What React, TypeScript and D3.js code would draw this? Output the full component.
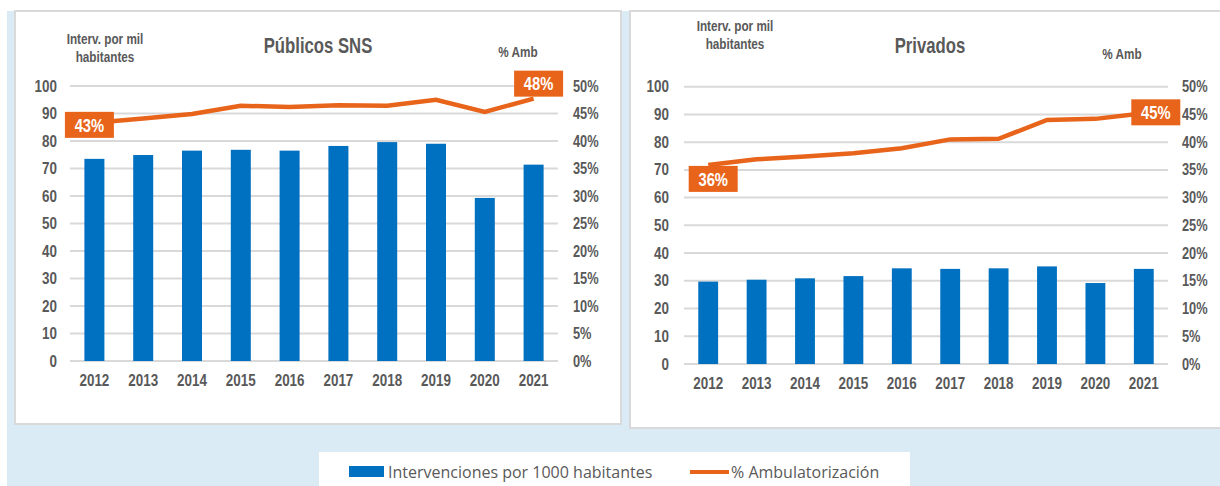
import React from 'react';
import * as d3 from 'd3';

const years = ['2012', '2013', '2014', '2015', '2016', '2017', '2018', '2019', '2020', '2021'];
const publicosInterv = [73.5, 74.9, 76.5, 76.8, 76.5, 78.2, 79.6, 79.0, 59.3, 71.4];
const publicosAmb = [43.3, 44.1, 44.9, 46.4, 46.2, 46.5, 46.4, 47.5, 45.3, 47.7];
const privadosInterv = [29.7, 30.4, 30.9, 31.7, 34.5, 34.3, 34.5, 35.2, 29.2, 34.3];
const privadosAmb = [35.9, 36.9, 37.4, 38.0, 38.9, 40.5, 40.6, 44.0, 44.2, 45.2];
const leftTicks = [0, 10, 20, 30, 40, 50, 60, 70, 80, 90, 100];
const rightTicks = [0, 5, 10, 15, 20, 25, 30, 35, 40, 45, 50];
const titles = ['Públicos SNS', 'Privados'];
const leftAxisTitle = ['Interv. por mil', 'habitantes'];
const rightAxisTitle = '% Amb';
const legendLabels = ['Intervenciones por 1000 habitantes', '% Ambulatorización'];

const BLUE = '#0070C0';
const ORANGE = '#E8641B';
const TEXT = '#595959';
const GRID = '#D9D9D9';
const BG = '#DAEBF5';
const FONT = "'Liberation Sans', Arial, sans-serif";

type Panel = {
  title: string;
  interv: number[];
  amb: number[];
  box: [number, number, number, number];
  x0: number; x1: number; y0: number; y1: number;
  titleX: number; titleY: number;
  ltX: number; ltY: number;
  ampX: number; ampY: number;
  leftLabelX: number; rightLabelX: number; xLabelY: number;
  firstOff: [number, number]; lastOff: [number, number];
};

const panels: Panel[] = [
  {
    title: titles[0], interv: publicosInterv, amb: publicosAmb,
    box: [15, 11, 606, 413],
    x0: 70, x1: 558, y0: 361, y1: 86,
    titleX: 318, titleY: 45, ltX: 105, ltY: 39, ampX: 518, ampY: 52,
    leftLabelX: 57, rightLabelX: 573, xLabelY: 380,
    firstOff: [-5, 2], lastOff: [5, -15],
  },
  {
    title: titles[1], interv: privadosInterv, amb: privadosAmb,
    box: [630, 11, 600, 417],
    x0: 684, x1: 1168, y0: 364, y1: 86.7,
    titleX: 930, titleY: 45, ltX: 735, ltY: 26, ampX: 1122, ampY: 54,
    leftLabelX: 669, rightLabelX: 1182, xLabelY: 383,
    firstOff: [5, 14], lastOff: [12, -1],
  },
];

type NProps = {
  x: number; y: number; size: number; sx?: number; bold?: boolean;
  anchor?: 'start' | 'middle' | 'end'; fill?: string; children: React.ReactNode;
};

function NText({ x, y, size, sx = 0.84, bold = true, anchor = 'middle', fill = TEXT, children }: NProps) {
  return (
    <text
      transform={`translate(${x},${y}) scale(${sx},1)`}
      dy="0.35em"
      textAnchor={anchor}
      fontSize={size}
      fontWeight={bold ? 'bold' : 'normal'}
      fill={fill}
    >
      {children}
    </text>
  );
}

function ChartPanel({ p }: { p: Panel }) {
  const x = d3.scaleBand<string>().domain(years).range([p.x0, p.x1]).paddingInner(0.59).paddingOuter(0.295);
  const y = d3.scaleLinear().domain([0, 100]).range([p.y0, p.y1]);
  const y2 = d3.scaleLinear().domain([0, 50]).range([p.y0, p.y1]);
  const cx = (d: string) => (x(d) as number) + x.bandwidth() / 2;
  const line = d3.line<number>().x((_, i) => cx(years[i])).y((v) => y2(v));
  const labelIdx = [0, years.length - 1];
  const offs = [p.firstOff, p.lastOff];
  return (
    <g>
      <rect x={p.box[0]} y={p.box[1]} width={p.box[2]} height={p.box[3]} fill="#fff" stroke={GRID} strokeWidth={2} />
      {leftTicks.map((t) => (
        <line key={t} x1={p.x0} x2={p.x1} y1={y(t)} y2={y(t)} stroke={GRID} strokeWidth={2} />
      ))}
      {leftTicks.map((t) => (
        <NText key={'l' + t} x={p.leftLabelX} y={y(t)} size={16} anchor="end">{t}</NText>
      ))}
      {rightTicks.map((t) => (
        <NText key={'r' + t} x={p.rightLabelX} y={y2(t)} size={16} anchor="start" sx={0.8}>{t + '%'}</NText>
      ))}
      {years.map((yr) => (
        <NText key={'x' + yr} x={cx(yr)} y={p.xLabelY} size={16}>{yr}</NText>
      ))}
      {years.map((yr, i) => (
        <rect key={'b' + yr} x={x(yr)} y={y(p.interv[i])} width={x.bandwidth()} height={y(0) - y(p.interv[i])} fill={BLUE} />
      ))}
      <path d={line(p.amb) || ''} fill="none" stroke={ORANGE} strokeWidth={4.5} strokeLinejoin="miter" />
      {labelIdx.map((i, k) => {
        const px = cx(years[i]) + offs[k][0];
        const py = y2(p.amb[i]) + offs[k][1];
        return (
          <g key={'lab' + i}>
            <rect x={px - 24.5} y={py - 13} width={49} height={26} fill={ORANGE} />
            <NText x={px} y={py + 0.5} size={18} fill="#fff" sx={0.82}>{Math.round(p.amb[i]) + '%'}</NText>
          </g>
        );
      })}
      <NText x={p.titleX} y={p.titleY} size={22} sx={0.76}>{p.title}</NText>
      <NText x={p.ltX} y={p.ltY} size={14}>{leftAxisTitle[0]}</NText>
      <NText x={p.ltX} y={p.ltY + 18} size={14}>{leftAxisTitle[1]}</NText>
      <NText x={p.ampX} y={p.ampY} size={14}>{rightAxisTitle}</NText>
    </g>
  );
}

export default function App() {
  return (
    <svg width={1220} height={486} style={{ position: 'absolute', left: 0, top: 0, fontFamily: FONT }}>
      <rect x={0} y={0} width={1220} height={486} fill="#fff" />
      <rect x={7} y={11} width={1213} height={475} fill={BG} />
      {panels.map((p) => <ChartPanel key={p.title} p={p} />)}
      <rect x={319} y={452} width={591} height={40} fill="#fff" />
      <rect x={349} y={466} width={35} height={11} fill={BLUE} />
      <text x={388} y={472} dy="0.35em" fontSize={16} fill={TEXT} style={{ fontFamily: "'Open Sans', sans-serif" }}>{legendLabels[0]}</text>
      <line x1={690} x2={729} y1={472} y2={472} stroke={ORANGE} strokeWidth={4} />
      <text x={731} y={472} dy="0.35em" fontSize={16} fill={TEXT} style={{ fontFamily: "'Open Sans', sans-serif" }}>{legendLabels[1]}</text>
    </svg>
  );
}
